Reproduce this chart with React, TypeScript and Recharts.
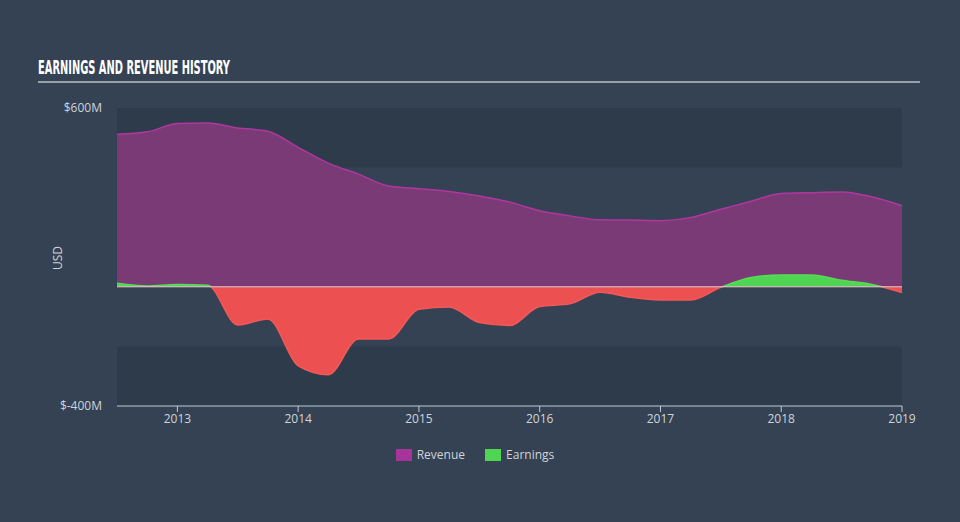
import React from "react";
import {
  AreaChart,
  Area,
  XAxis,
  YAxis,
  ReferenceArea,
  ReferenceLine,
} from "recharts";

// quarterly points, fractional years
const quarters = [
  2012.5, 2012.75, 2013, 2013.25, 2013.5, 2013.75, 2014, 2014.25, 2014.5, 2014.75,
  2015, 2015.25, 2015.5, 2015.75, 2016, 2016.25, 2016.5, 2016.75, 2017, 2017.25,
  2017.5, 2017.75, 2018, 2018.25, 2018.5, 2018.75, 2019,
];
// $M
const revenue = [
  512, 520, 548, 550, 533, 522, 468, 415, 378, 338,
  329, 320, 305, 285, 255, 238, 225, 224, 222, 233,
  260, 287, 313, 316, 318, 302, 272,
];
const earnings = [
  12, 3, 8, 5, -128, -108, -265, -295, -175, -175,
  -75, -68, -120, -130, -66, -57, -18, -35, -44, -44,
  -2, 31, 40, 40, 22, 8, -19,
];
const yearTicks = [2013, 2014, 2015, 2016, 2017, 2018, 2019];
const valueTicks = [-400, 600];

const rows = quarters.map((t, i) => ({ t, revenue: revenue[i], earnings: earnings[i] }));

const BG = "#344253";
const BAND = "#2e3b4b";
const TXT = "#cfd4da";
const FONT = "'Open Sans', sans-serif";

// plot box: x 117..902, y 108..406
const PLOT_TOP = 108;
const PLOT_BOTTOM = 406;

export default function App() {
  return (
    <div
      style={{
        position: "absolute",
        left: 0,
        top: 0,
        width: 960,
        height: 522,
        background: BG,
        fontFamily: FONT,
        overflow: "hidden",
      }}
    >
      <svg width={960} height={90} style={{ position: "absolute", left: 0, top: 0 }}>
        <text
          x={38}
          y={74}
          textLength={192}
          lengthAdjust="spacingAndGlyphs"
          fill="#ffffff"
          fontFamily="'Liberation Sans Narrow', 'DejaVu Sans Condensed', sans-serif"
          fontWeight="bold"
          fontSize={19}
        >
          EARNINGS AND REVENUE HISTORY
        </text>
        <line x1={38} x2={920} y1={82} y2={82} stroke="#b9bfc7" strokeWidth={1.5} />
      </svg>

      <div style={{ position: "absolute", left: 0, top: 0 }}>
        <AreaChart width={960} height={522} data={rows} margin={{ top: PLOT_TOP, right: 58, bottom: 86, left: 57 }}>
          <defs>
            <linearGradient id="earnFill" gradientUnits="userSpaceOnUse" x1="0" y1={PLOT_TOP} x2="0" y2={PLOT_BOTTOM}>
              <stop offset="0.6" stopColor="#4fd551" />
              <stop offset="0.6" stopColor="#ec5050" />
            </linearGradient>
            <linearGradient id="earnStroke" gradientUnits="userSpaceOnUse" x1="0" y1={PLOT_TOP} x2="0" y2={PLOT_BOTTOM}>
              <stop offset="0.6" stopColor="#55dd55" />
              <stop offset="0.6" stopColor="#f25858" />
            </linearGradient>
          </defs>
          <ReferenceArea y1={400} y2={600} fill={BAND} fillOpacity={1} stroke="none" />
          <ReferenceArea y1={-400} y2={-200} fill={BAND} fillOpacity={1} stroke="none" />
          <XAxis
            dataKey="t"
            type="number"
            domain={[2012.5, 2019]}
            ticks={yearTicks}
            height={30}
            stroke="#c3cad4"
            tickSize={6}
            tickMargin={2}
            tick={{ fill: TXT, fontSize: 12, fontFamily: FONT }}
          />
          <YAxis
            type="number"
            domain={[-400, 600]}
            ticks={valueTicks}
            width={60}
            axisLine={false}
            tickLine={false}
            tickSize={0}
            tickMargin={15}
            tickFormatter={(v: number) => `$${v}M`}
            tick={{ fill: TXT, fontSize: 12, fontFamily: FONT }}
          />
          <Area
            type="monotone"
            dataKey="revenue"
            name="Revenue"
            baseValue={0}
            fill="#7a3a76"
            fillOpacity={1}
            stroke="#b0379f"
            strokeWidth={1.5}
            dot={false}
            activeDot={false}
            isAnimationActive={false}
          />
          <Area
            type="monotone"
            dataKey="earnings"
            name="Earnings"
            baseValue={0}
            fill="url(#earnFill)"
            fillOpacity={1}
            stroke="url(#earnStroke)"
            strokeWidth={1.5}
            dot={false}
            activeDot={false}
            isAnimationActive={false}
          />
          <ReferenceLine y={0} stroke="#efc3d3" strokeWidth={1} />
        </AreaChart>
      </div>

      <div
        style={{
          position: "absolute",
          left: 57,
          top: 258,
          transform: "translate(-50%, -50%) rotate(-90deg)",
          color: TXT,
          fontSize: 12,
        }}
      >
        USD
      </div>

      <div
        style={{
          position: "absolute",
          left: 0,
          top: 447,
          width: 950,
          display: "flex",
          justifyContent: "center",
          gap: 20,
          fontSize: 12,
          color: TXT,
          lineHeight: "16px",
        }}
      >
        <span style={{ display: "flex", alignItems: "center", gap: 5 }}>
          <span style={{ width: 16, height: 12, background: "#a8339b", display: "inline-block" }} />
          Revenue
        </span>
        <span style={{ display: "flex", alignItems: "center", gap: 5 }}>
          <span style={{ width: 16, height: 12, background: "#4fd551", display: "inline-block" }} />
          Earnings
        </span>
      </div>
    </div>
  );
}
